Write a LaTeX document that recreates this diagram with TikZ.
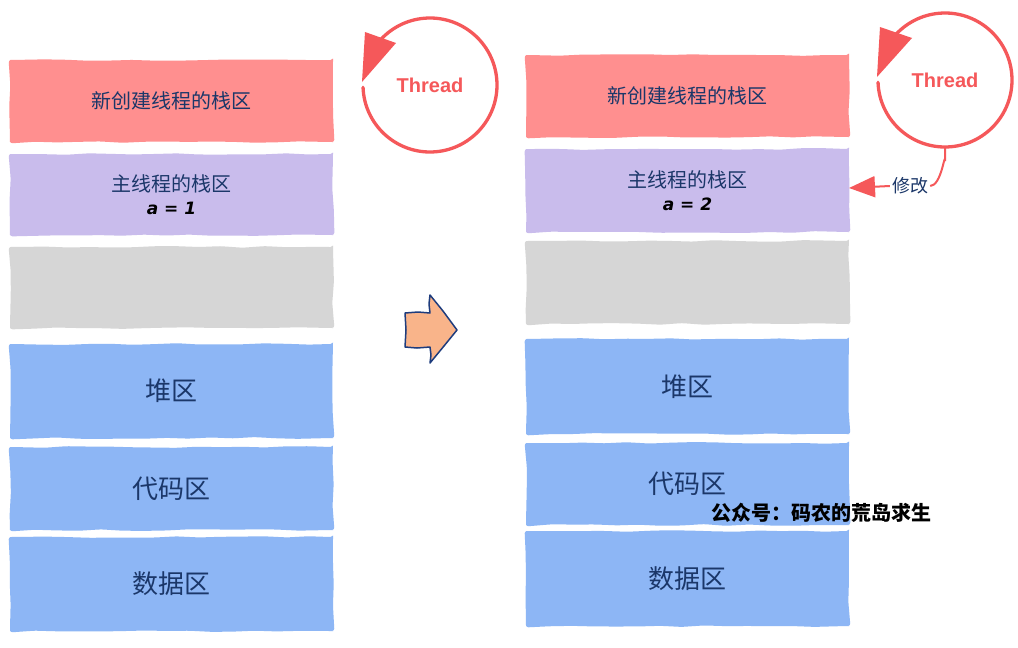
\documentclass[tikz,border=0pt]{standalone}
\usepackage{fontspec}
\setmainfont{Noto Sans CJK SC}
\newfontfamily\cjk{Noto Sans CJK SC}
\newfontfamily\thr{Liberation Sans}
\newfontfamily\dvs{DejaVu Sans}
\usetikzlibrary{decorations.pathmorphing,arrows.meta,calc}
\definecolor{boxred}{RGB}{255,143,143}
\definecolor{boxpurple}{RGB}{201,188,236}
\definecolor{boxgray}{RGB}{214,214,214}
\definecolor{boxblue}{RGB}{141,182,245}
\definecolor{navy}{RGB}{27,55,105}
\definecolor{threadred}{RGB}{245,88,90}
\definecolor{peach}{RGB}{249,180,138}
\definecolor{arrowblue}{RGB}{30,60,125}
\tikzset{
  membox/.style={rectangle, inner sep=0pt, minimum width=323, text=navy,
    font=\cjk\fontsize{20}{24}\selectfont, align=center,
    decorate, decoration={random steps,segment length=22pt,amplitude=0.9pt},
    rounded corners=2.5pt},
  bigtext/.style={font=\cjk\fontsize{26}{30}\selectfont},
  threadnode/.style={circle, inner sep=0pt, minimum size=134, text=threadred,
    font=\thr\bfseries\fontsize{20}{24}\selectfont},
  threadline/.style={draw=threadred, line width=3.3pt, line cap=round},
  modline/.style={draw=threadred, line width=2pt},
  modlabel/.style={text=navy, inner sep=2pt, font=\cjk\fontsize{18}{22}\selectfont},
  bigarrow/.style={fill=peach, draw=arrowblue, line width=1.5pt, line join=round},
}
\newcommand{\avar}[1]{{\color{black}\dvs\bfseries\itshape\fontsize{17}{20}\selectfont #1}}
\begin{document}
\begin{tikzpicture}[x=1pt,y=-1pt]
\pgfmathsetseed{11}
\fill[white] (0,0) rectangle (1018,648);
\useasboundingbox (0,0) rectangle (1018,648);

% left column
\node[membox, fill=boxred, minimum height=82] (l1) at (171.5,101) {新创建线程的栈区};
\node[membox, fill=boxpurple, minimum height=81] (l2) at (171.5,194.5) {主线程的栈区\\[-1pt]\avar{a = 1}};
\node[membox, fill=boxgray, minimum height=81] (l3) at (171.5,287.5) {};
\node[membox, fill=boxblue, minimum height=94, bigtext] (l4) at (171.5,391) {堆区};
\node[membox, fill=boxblue, minimum height=83, bigtext] (l5) at (171.5,488.5) {代码区};
\node[membox, fill=boxblue, minimum height=94, bigtext] (l6) at (171.5,584) {数据区};

% right column
\node[membox, fill=boxred, minimum height=82] (r1) at (687.5,96) {新创建线程的栈区};
\node[membox, fill=boxpurple, minimum height=83] (r2) at (687.5,190.5) {主线程的栈区\\[-1pt]\avar{a = 2}};
\node[membox, fill=boxgray, minimum height=83] (r3) at (687.5,282.5) {};
\node[membox, fill=boxblue, minimum height=95, bigtext] (r4) at (687.5,386.5) {堆区};
\node[membox, fill=boxblue, minimum height=82, bigtext] (r5) at (687.5,484) {代码区};
\node[membox, fill=boxblue, minimum height=95, bigtext] (r6) at (687.5,578.5) {数据区};

% thread circles
\node[threadnode] (t1) at (430,85) {Thread};
\draw[threadline] (t1.center) ++(178:67) arc[start angle=178, end angle=-137, radius=67];
\fill[threadred] ($(t1.center)+(-65,-53)$) -- ($(t1.center)+(-34,-42)$) -- ($(t1.center)+(-68,-3)$) -- cycle;

\node[threadnode] (t2) at (945,80) {Thread};
\draw[threadline] (t2.center) ++(178:67) arc[start angle=178, end angle=-137, radius=67];
\fill[threadred] ($(t2.center)+(-65,-53)$) -- ($(t2.center)+(-33,-42)$) -- ($(t2.center)+(-68,-3)$) -- cycle;

% modify connector
\node[modlabel] (mod) at (910,186) {修改};
\coordinate (tgt) at (849,188);
\draw[modline] (t2.south) -- ++(0,14) to[out=90,in=0] (mod.east);
\draw[modline,-{Triangle[length=26pt,width=21pt]}] (mod.west) -- (tgt);

% middle block arrow
\draw[bigarrow] (405,313) -- (418,312) -- (430,313) -- (429,304) -- (430,295)
  -- (443,311) -- (457,330) -- (444,346) -- (430,363) -- (431,355) -- (430,347)
  -- (417,348) -- (405,347) -- (406,330) -- cycle;

% watermark
\node[font=\cjk\bfseries\fontsize{20}{24}\selectfont, text=black, inner sep=0pt] (wm) at (821,513) {公众号：码农的荒岛求生};
\end{tikzpicture}
\end{document}
